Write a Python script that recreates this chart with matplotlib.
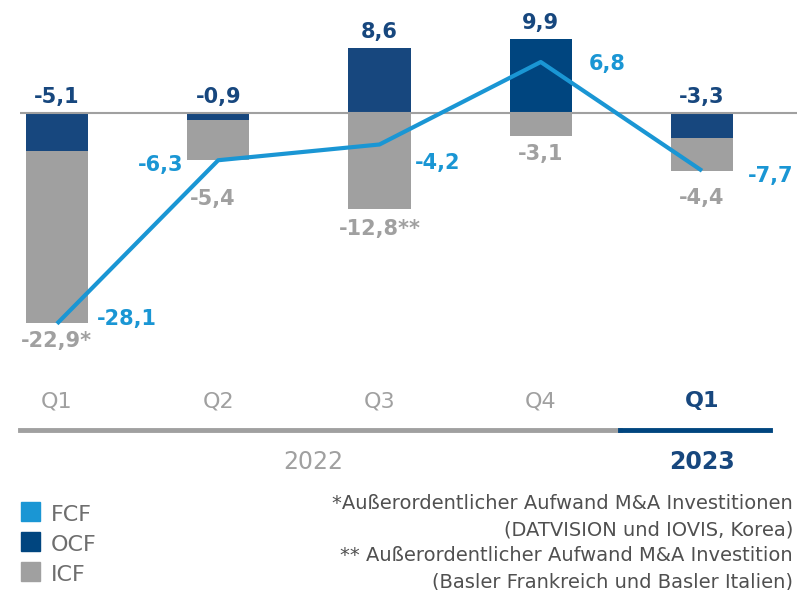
import numpy as np
import matplotlib.pyplot as plt
from matplotlib.transforms import blended_transform_factory
from matplotlib.patches import Rectangle

# data
quarters = ["Q1", "Q2", "Q3", "Q4", "Q1"]
ocf = [-5.1, -0.9, 8.6, 9.9, -3.3]
icf = [-22.9, -5.4, -12.8, -3.1, -4.4]
fcf = [-28.1, -6.3, -4.2, 6.8, -7.7]
icf_marks = ["*", "", "**", "", ""]
years = ["2022", "2023"]

DARK = "#17477e"
DARK2 = "#00457f"
GRAY = "#a0a0a0"
LIGHT = "#1a96d4"

plt.rcParams['font.family'] = ['DejaVu Sans']


def fmt(v):
    return ("%.1f" % v).replace(".", ",")


fig = plt.figure(figsize=(8, 5.9), dpi=100)
ax = fig.add_axes([20 / 800, 1 - 340 / 590, 777 / 800, 320 / 590])
ax.set_xlim(-0.229, 4.589)
ax.set_ylim(-30.27, 12.4)
ax.axis("off")

x = np.arange(len(quarters))
w = 0.385
px = 1 / 7.5        # data units per pixel (y)
pxx = 1 / 161.25    # data units per pixel (x)
fs = 15
cap = fs * 100 / 72 * 0.73

# stacked bars: ICF sits below OCF when OCF is negative, else from zero
icf_bottom = [o if o < 0 else 0 for o in ocf]
ocf_colors = [DARK, DARK, DARK, DARK2, DARK]
ax.bar(x, ocf, w, color=ocf_colors, zorder=2)
ax.bar(x, icf, w, bottom=icf_bottom, color=GRAY, zorder=2)
ax.axhline(0, color="#a0a0a0", lw=1.5, zorder=3)
ax.plot(x, fcf, color=LIGHT, lw=3, zorder=4, solid_capstyle="butt")

# OCF labels
for i, v in enumerate(ocf):
    top = max(v, 0)
    ax.text(x[i], top + 10 * px, fmt(v), ha="center", va="baseline",
            color=DARK, fontsize=fs, fontweight="bold")

# ICF labels: gap from bar bottom to label centre, pixels
icf_gap = [16, 37, 18, 16, 26]
icf_dx = [0, -6, 0, 0, 0]
for i, v in enumerate(icf):
    bot = icf_bottom[i] + v
    ax.text(x[i] + icf_dx[i] * pxx, bot - (icf_gap[i] + cap / 2) * px,
            fmt(v) + icf_marks[i], ha="center", va="baseline",
            color=GRAY, fontsize=fs, fontweight="bold")

# FCF labels (offsets in pixels, dy positive = down)
fcf_off = [(70, -6), (-58, 3), (58, 17), (66, 0), (69, 4)]
for i, v in enumerate(fcf):
    dx, dy = fcf_off[i]
    ax.text(x[i] + dx * pxx, v - (dy + cap / 2) * px, fmt(v), ha="center",
            va="baseline", color=LIGHT, fontsize=fs, fontweight="bold")

# category axis below
tr = blended_transform_factory(ax.transData, fig.transFigure)
for i, q in enumerate(quarters):
    last = i == len(quarters) - 1
    fig.text(x[i], 1 - 401 / 590, q, transform=tr, ha="center", va="center",
             color=DARK if last else GRAY, fontsize=16,
             fontweight="bold" if last else "normal")

yline = 1 - 430 / 590
fig.add_artist(plt.Line2D([20 / 800, 620 / 800], [yline, yline], color=GRAY, lw=3.5))
fig.add_artist(plt.Line2D([620 / 800, 770 / 800], [yline, yline], color=DARK2, lw=3.5))
fig.text(313 / 800, 1 - 462 / 590, years[0], ha="center", va="center",
         color=GRAY, fontsize=17)
fig.text(x[-1], 1 - 462 / 590, years[1], transform=tr, ha="center", va="center",
         color=DARK, fontsize=17, fontweight="bold")

# legend
for j, (lab, col) in enumerate([("FCF", LIGHT), ("OCF", DARK2), ("ICF", GRAY)]):
    yb = 521 + j * 30
    fig.add_artist(Rectangle((21 / 800, 1 - yb / 590), 19 / 800, 19 / 590,
                             color=col, transform=fig.transFigure))
    fig.text(51 / 800, 1 - yb / 590, lab, ha="left", va="baseline",
             color="#6e6e6e", fontsize=16)

# footnotes
notes = ["*Außerordentlicher Aufwand M&A Investitionen",
         "(DATVISION und IOVIS, Korea)",
         "** Außerordentlicher Aufwand M&A Investition",
         "(Basler Frankreich und Basler Italien)"]
for j, n in enumerate(notes):
    fig.text(793 / 800, 1 - (509 + j * 26) / 590, n, ha="right", va="baseline",
             color="#505050", fontsize=14)

fig.savefig("out.png", dpi=100)
